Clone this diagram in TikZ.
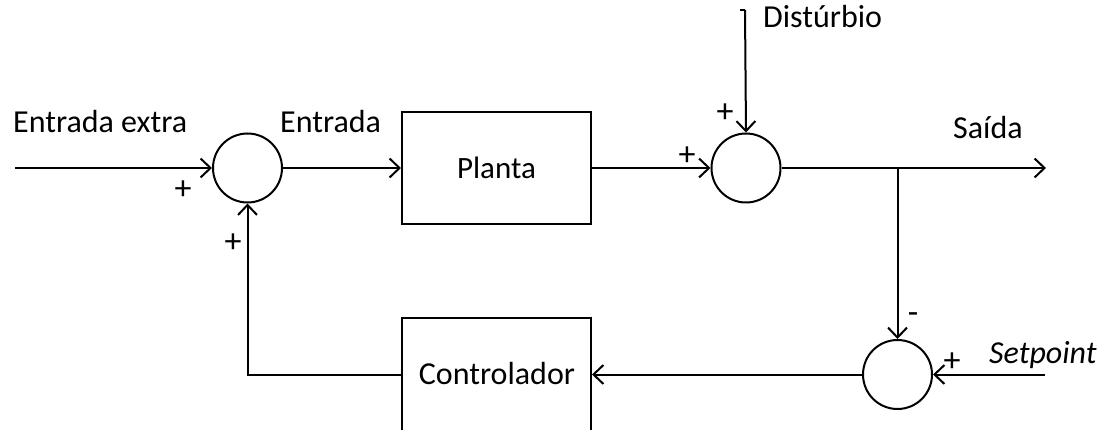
\documentclass[tikz,border=0pt]{standalone}
\usepackage{fontspec}
\setmainfont{Carlito}
\usetikzlibrary{arrows.meta}
\tikzset{
  sumnode/.style={draw, circle, line width=2pt, minimum size=69pt, inner sep=0pt},
  blocknode/.style={draw, rectangle, line width=2pt, minimum width=189pt, minimum height=112pt, inner sep=0pt, font=\fontsize{31}{36}\selectfont},
  lbl/.style={anchor=base west, inner sep=0pt, font=\fontsize{32}{38}\selectfont},
  sgn/.style={inner sep=0pt, font=\fontsize{34}{40}\selectfont},
  conn/.style={line width=2pt, -{Straight Barb[length=10pt,width=19pt,line width=2pt]}},
  plain/.style={line width=2pt}
}
\begin{document}
\begin{tikzpicture}[x=1pt,y=-1pt]
\useasboundingbox (0,0) rectangle (1108,430);
\clip (0,0) rectangle (1108,430);
% nodes
\node[sumnode] (s1) at (247.5,168) {};
\node[sumnode] (s2) at (746,168) {};
\node[sumnode] (s3) at (897.5,374.5) {};
\node[blocknode] (plant) at (496.5,168) {Planta};
\node[blocknode, minimum height=120pt] (ctrl) at (496.5,378) {};
\node[inner sep=0pt, font=\fontsize{32}{38}\selectfont] (ctrltxt) at (497,374) {Controlador};
% coordinates
\coordinate (in) at (15,168);
\coordinate (dtop) at (745,10);
\coordinate (dtick) at (740,10);
\coordinate (out) at (1046,168);
\coordinate (br) at (897.5,168);
\coordinate (sp) at (1045,374.5);
% connectors
\draw[conn] (in) -- (s1.west);
\draw[conn] (s1.east) -- (plant.west);
\draw[conn] (plant.east) -- (s2.west);
\draw[plain] (dtick) -- (dtop);
\draw[conn] (dtop) -- (s2.north);
\draw[conn] (s2.east) -- (out);
\draw[conn] (br) -- (s3.north);
\draw[conn] (sp) -- (s3.east);
\draw[conn] (s3.west) -- (ctrl.east |- s3.west);
\draw[conn] (ctrl.west |- s3.west) -| (s1.south);
% labels
\node[lbl] (lin) at (13,133) {Entrada extra};
\node[lbl] (lent) at (280,133) {Entrada};
\node[lbl] (ldist) at (763,28) {Distúrbio};
\node[lbl] (lout) at (953,139) {Saída};
\node[lbl] (lsp) at (989,363) {\itshape Setpoint};
\node[sgn] (p1) at (183,190) {+};
\node[sgn] (p2) at (233,243) {+};
\node[sgn] (p3) at (687,156) {+};
\node[sgn] (p4) at (725,113) {+};
\node[sgn] (p5) at (952,362) {+};
\node[sgn] (m1) at (913,318) {-};
\end{tikzpicture}
\end{document}
